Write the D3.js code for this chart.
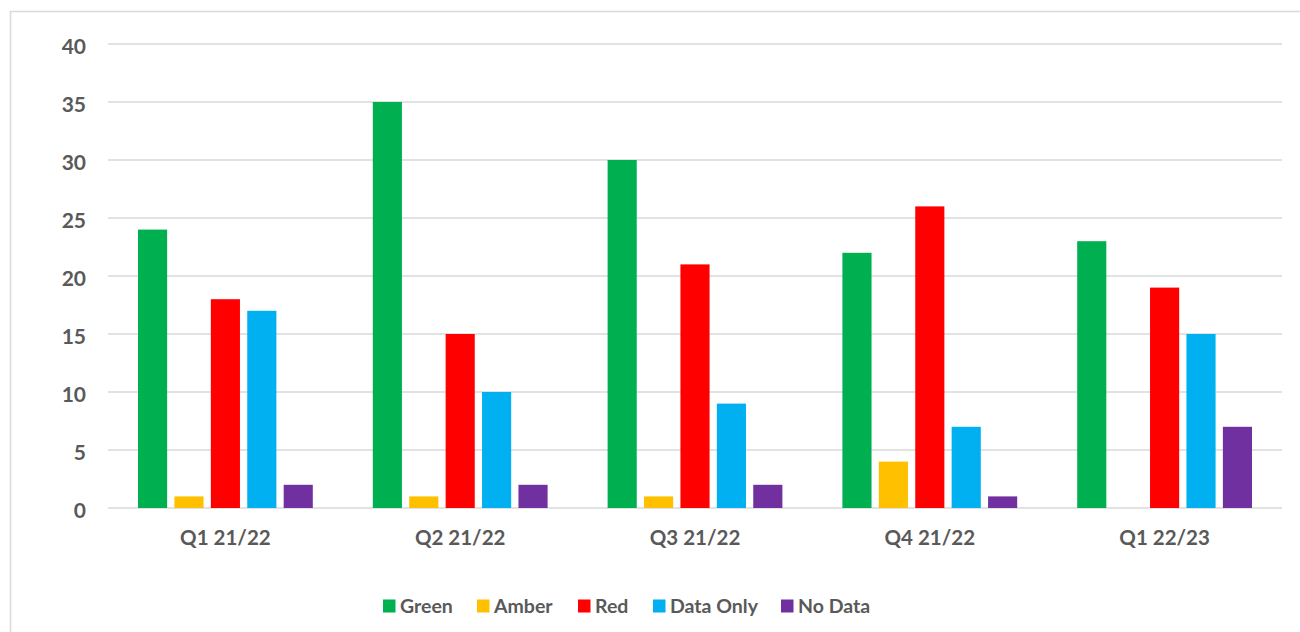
<!DOCTYPE html>
<html>
<head>
<meta charset="utf-8">
<script src="https://cdn.jsdelivr.net/npm/d3@7"></script>
<style>
  body { margin: 0; background: #fff; }
  text { font-family: Lato, "Open Sans", sans-serif; font-weight: bold; fill: #595959; }
</style>
</head>
<body>
<div id="chart"></div>
<script>
var categories = ["Q1 21/22", "Q2 21/22", "Q3 21/22", "Q4 21/22", "Q1 22/23"]
var series = ["Green", "Amber", "Red", "Data Only", "No Data"]
var colors = ["#00b050", "#ffc000", "#ff0000", "#00b0f0", "#7030a0"]
var green = [24, 35, 30, 22, 23]
var amber = [1, 1, 1, 4, 0]
var red = [18, 15, 21, 26, 19]
var dataOnly = [17, 10, 9, 7, 15]
var noData = [2, 2, 2, 1, 7]
var yTicks = [0, 5, 10, 15, 20, 25, 30, 35, 40]

var values = [green, amber, red, dataOnly, noData]

var width = 1300, height = 632
var plotLeft = 108, plotRight = 1282, plotTop = 44, plotBottom = 508

var svg = d3.select("#chart").append("svg")
    .attr("width", width).attr("height", height)

// outer frame
svg.append("rect")
    .attr("x", 10.5).attr("y", 11.5)
    .attr("width", 1300).attr("height", 640)
    .attr("fill", "none").attr("stroke", "#d9d9d9").attr("stroke-width", 1.5)

var y = d3.scaleLinear().domain([0, 40]).range([plotBottom, plotTop])
var x0 = d3.scaleBand().domain(categories).range([plotLeft, plotRight])
var x1 = d3.scaleBand().domain(series)
    .range([30, x0.bandwidth() - 30]).paddingInner(0.2)

// gridlines
svg.append("g").selectAll("line")
    .data(yTicks)
    .enter().append("line")
    .attr("x1", plotLeft).attr("x2", plotRight)
    .attr("y1", d => y(d)).attr("y2", d => y(d))
    .attr("stroke", "#d9d9d9").attr("stroke-width", 1.5)

// y labels
svg.append("g").selectAll("text")
    .data(yTicks)
    .enter().append("text")
    .attr("x", 86).attr("y", d => y(d) + 3)
    .attr("dy", "0.35em")
    .attr("text-anchor", "end")
    .attr("font-size", 21)
    .text(d => d)

// bars
var groups = svg.append("g").selectAll("g")
    .data(categories)
    .enter().append("g")
    .attr("transform", d => `translate(${x0(d)},0)`)

groups.selectAll("rect")
    .data((c, i) => series.map((s, j) => ({ s: s, j: j, v: values[j][i] })))
    .enter().append("rect")
    .attr("x", d => x1(d.s))
    .attr("width", x1.bandwidth())
    .attr("y", d => y(d.v))
    .attr("height", d => y(0) - y(d.v))
    .attr("fill", d => colors[d.j])

// category labels
svg.append("g").selectAll("text")
    .data(categories)
    .enter().append("text")
    .attr("x", d => x0(d) + x0.bandwidth() / 2)
    .attr("y", 538)
    .attr("dy", "0.35em")
    .attr("text-anchor", "middle")
    .attr("font-size", 20.5)
    .text(d => d)

// legend
var legendX = [383, 477, 578, 653, 781]
var legend = svg.append("g").selectAll("g")
    .data(series)
    .enter().append("g")
    .attr("transform", (d, i) => `translate(${legendX[i]},606)`)
legend.append("rect")
    .attr("x", 0).attr("y", -6.5)
    .attr("width", 12.5).attr("height", 13)
    .attr("fill", (d, i) => colors[i])
legend.append("text")
    .attr("x", 17).attr("dy", "0.35em")
    .attr("font-size", 19.5)
    .text(d => d)
</script>
</body>
</html>
